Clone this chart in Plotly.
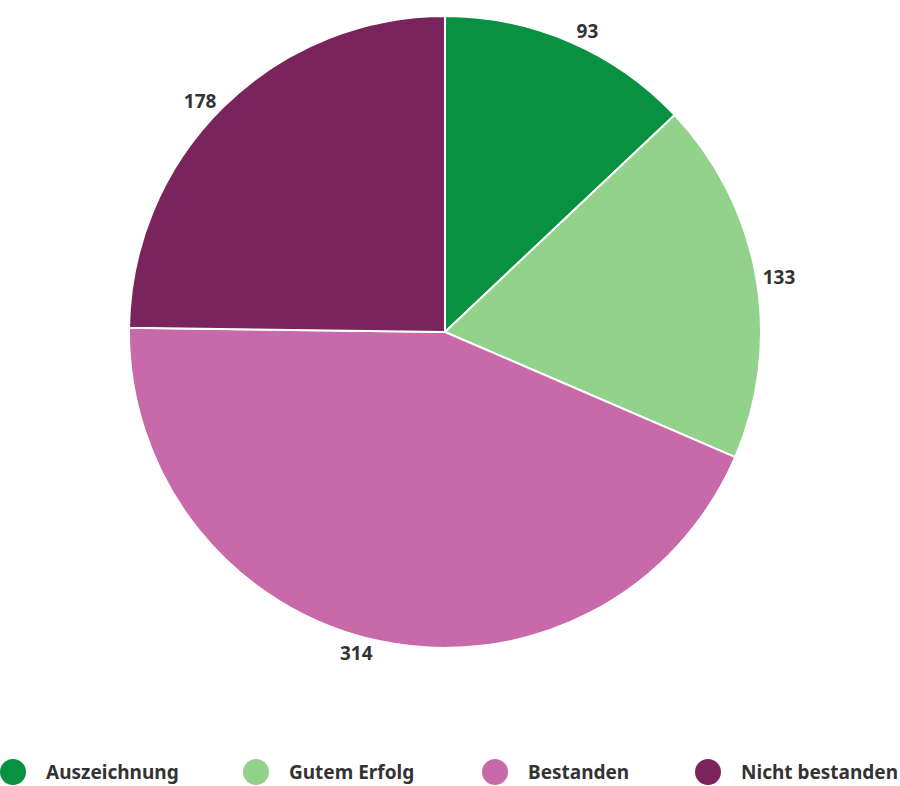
import plotly.graph_objects as go

categories = ["Auszeichnung", "Gutem Erfolg", "Bestanden", "Nicht bestanden"]
values = [93, 133, 314, 178]
colors = ["#079140", "#93d28a", "#c869aa", "#79245d"]

W, H = 900, 786
# pie box in pixels (left, right, top, bottom)
pie_box = (129, 761, 16, 648)
# legend layout (pixel positions of the marker centres)
legend_marker_x = [13, 256, 495, 708]
legend_y = 772
FONT = "Noto Sans"

fig = go.Figure()
fig.add_trace(go.Pie(
    labels=categories, values=values, sort=False, direction="clockwise",
    rotation=0, marker=dict(colors=colors, line=dict(color="white", width=2)),
    textinfo="value", textposition="outside", automargin=False,
    textfont=dict(family=FONT, size=19, color="#333333", weight="bold"),
    showlegend=False,
    domain=dict(x=[pie_box[0] / W, pie_box[1] / W],
                y=[1 - pie_box[3] / H, 1 - pie_box[2] / H]),
    hoverinfo="label+value",
))

shapes, annotations = [], []
for name, c, mx in zip(categories, colors, legend_marker_x):
    shapes.append(dict(type="circle", xref="paper", yref="paper",
                       x0=(mx - 13) / W, x1=(mx + 13) / W,
                       y0=(H - legend_y - 13) / H, y1=(H - legend_y + 13) / H,
                       fillcolor=c, line=dict(width=0)))
    annotations.append(dict(text=name, xref="paper", yref="paper",
                            x=(mx + 31) / W, y=(H - legend_y) / H,
                            xanchor="left", yanchor="middle", showarrow=False,
                            font=dict(family=FONT, size=19, color="#333333",
                                      weight="bold")))

fig.update_layout(
    width=W, height=H, margin=dict(l=0, r=0, t=0, b=0, pad=0, autoexpand=False),
    paper_bgcolor="white", plot_bgcolor="white",
    showlegend=False, shapes=shapes, annotations=annotations,
)
fig.write_html("out.html", config={"displayModeBar": False},
               post_script="document.body.style.margin='0';document.body.style.overflow='hidden';")
